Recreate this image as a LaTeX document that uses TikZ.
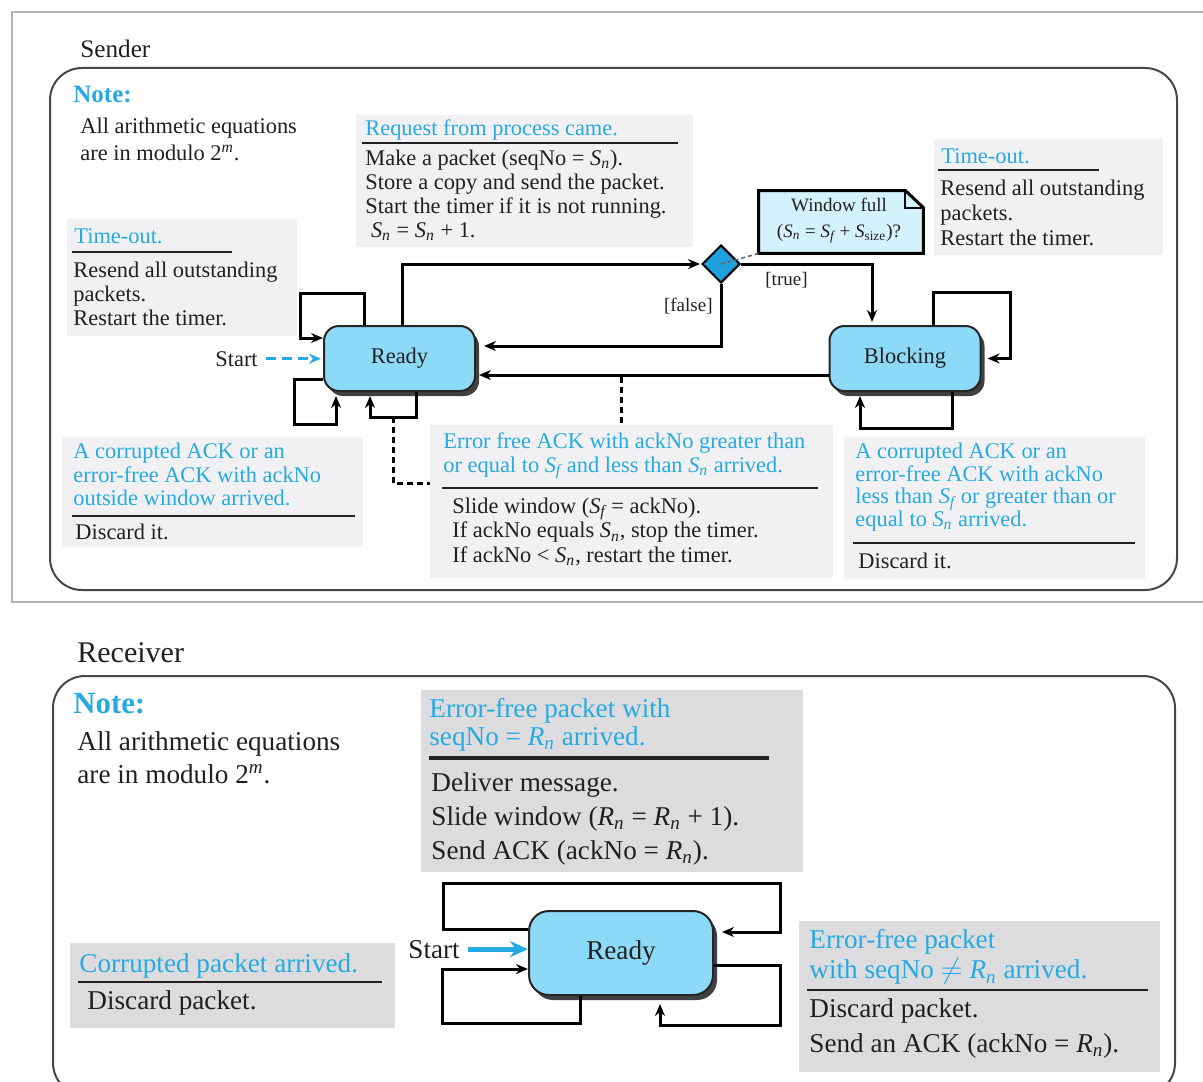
\documentclass[tikz,border=0pt]{standalone}
\usepackage{amsmath}
\usepackage{fontspec}
\setmainfont{Liberation Serif}
\usetikzlibrary{arrows.meta,shapes.geometric,shadows,calc}
\definecolor{cyanT}{RGB}{38,170,225}
\definecolor{boxS}{RGB}{241,241,243}
\definecolor{boxR}{RGB}{220,220,222}
\definecolor{stfill}{RGB}{140,218,247}
\definecolor{diafill}{RGB}{30,160,220}
\definecolor{notefill}{RGB}{212,242,252}
\definecolor{frameC}{RGB}{70,70,70}
\definecolor{txt}{RGB}{35,31,32}
\newcommand\vsub[2]{\textit{#1}$_{\textit{#2}}$}
\newcommand\vsubr[2]{\textit{#1}$_{\text{#2}}$}
\begin{document}
\begin{tikzpicture}[x=0.5pt,y=-0.5pt,
  tx/.style={anchor=north west, inner sep=0pt, align=left, text=txt},
  one/.style={anchor=base west, inner sep=0pt, text=txt},
  sbox/.style={fill=boxS, inner sep=0pt, anchor=north west},
  rbox/.style={fill=boxR, inner sep=0pt, anchor=north west},
  stS/.style={draw=black!85, line width=1pt, fill=stfill, rounded corners=7.5pt,
    minimum width=75.5pt, minimum height=32.5pt, inner sep=0pt, text=txt,
    font=\fontsize{11.2}{13}\selectfont,
    drop shadow={shadow xshift=2pt, shadow yshift=-2.5pt, fill=black!75, opacity=1}},
  stR/.style={stS, rounded corners=10pt, minimum width=92pt, minimum height=42pt,
    font=\fontsize{13.6}{16}\selectfont},
  dia/.style={diamond, draw=black, line width=1pt, fill=diafill, minimum size=19pt, inner sep=0pt, aspect=1},
  conn/.style={line width=1.5pt, draw=black, -{Stealth[length=6pt,width=5pt]}},
  anch/.style={line width=1.5pt, draw=black, dash pattern=on 3pt off 2pt},
  rulea/.style={line width=0.75pt, draw=txt},
  frame/.style={draw=frameC, line width=1pt, rounded corners=16pt}
]
\useasboundingbox (0,0) rectangle (1203,1081);
\fill[white] (0,0) rectangle (1203,1081);

% ---------------- outer frames
\draw[black!30, line width=0.6pt] (1203,12) -- (12,12) -- (12,602) -- (1203,602);
\draw[frame] (50,68) rectangle (1177,590);
\draw[frame] (53,676) rectangle (1175,1095);

% ---------------- sender gray boxes
\node[sbox, minimum width=168.5pt, minimum height=66pt] (reqbox) at (356,115) {};
\node[sbox, minimum width=115pt, minimum height=58.5pt] (tolbox) at (67,219) {};
\node[sbox, minimum width=114.5pt, minimum height=58pt] (torbox) at (934,139) {};
\node[sbox, minimum width=150.5pt, minimum height=55pt] (blbox) at (62,437) {};
\node[sbox, minimum width=201.5pt, minimum height=76.5pt] (midbox) at (430,425) {};
\node[sbox, minimum width=150.5pt, minimum height=71pt] (brbox) at (844,437) {};

% ---------------- receiver gray boxes
\node[rbox, minimum width=191pt, minimum height=91pt] (rtbox) at (421,690) {};
\node[rbox, minimum width=162.5pt, minimum height=42.5pt] (rlbox) at (70,943) {};
\node[rbox, minimum width=180.5pt, minimum height=75.5pt] (rrbox) at (799,921) {};

% ---------------- sender texts
\node[one, font=\fontsize{12.6}{14}\selectfont] (sender) at (80,58) {Sender};
\node[one, text=cyanT, font=\bfseries\fontsize{12.5}{14}\selectfont] (noteS) at (73,103) {Note:};
\node[tx, font=\fontsize{11.2}{13.5}\selectfont] (noteStxt) at (80,114.1)
  {\strut All arithmetic equations\\are in modulo 2$^{\textit{m}}$.};

\node[one, text=cyanT, font=\fontsize{11.2}{12}\selectfont] (reqT) at (365,135) {Request from process came.};
\draw[rulea] (362,143) -- (678,143);
\node[tx, font=\fontsize{11.2}{12}\selectfont] (reqB) at (365,148.2)
  {\strut Make a packet (seqNo = \vsub{S}{n}).\\Store a copy and send the packet.\\Start the timer if it is not running.\\\ \vsub{S}{n} = \vsub{S}{n} + 1.};

\node[one, text=cyanT, font=\fontsize{11.2}{12}\selectfont] (tolT) at (74,243) {Time-out.};
\draw[rulea] (72,252) -- (232,252);
\node[tx, font=\fontsize{11.2}{12}\selectfont] (tolB) at (73,260.2)
  {\strut Resend all outstanding\\packets.\\Restart the timer.};

\node[one, text=cyanT, font=\fontsize{11.2}{12}\selectfont] (torT) at (941,163) {Time-out.};
\draw[rulea] (938,170) -- (1099,170);
\node[tx, font=\fontsize{11.2}{12.5}\selectfont] (torB) at (940,177.5)
  {\strut Resend all outstanding\\packets.\\Restart the timer.};

\node[tx, text=cyanT, font=\fontsize{11.2}{11.25}\selectfont] (blT) at (73,442.25)
  {\strut A corrupted ACK or an\\error-free ACK with ackNo\\outside window arrived.};
\draw[rulea] (72,516) -- (355,516);
\node[one, font=\fontsize{11.2}{12}\selectfont] (blB) at (75,539) {Discard it.};

\node[tx, text=cyanT, font=\fontsize{11.2}{12}\selectfont] (midT) at (443,431.2)
  {\strut Error free ACK with ackNo greater than\\or equal to \vsub{S}{f} and less than \vsub{S}{n} arrived.};
\draw[rulea] (442,488) -- (818,488);
\node[tx, font=\fontsize{11.2}{12.25}\selectfont] (midB) at (452,495.85)
  {\strut Slide window (\vsub{S}{f} = ackNo).\\If ackNo equals \vsub{S}{n}, stop the timer.\\If ackNo < \vsub{S}{n}, restart the timer.};

\node[tx, text=cyanT, font=\fontsize{11.2}{11.3}\selectfont] (brT) at (855,442.2)
  {\strut A corrupted ACK or an\\error-free ACK with ackNo\\less than \vsub{S}{f} or greater than or\\equal to \vsub{S}{n} arrived.};
\draw[rulea] (853,543) -- (1135,543);
\node[one, font=\fontsize{11.2}{12}\selectfont] (brB) at (858,568) {Discard it.};

% ---------------- sender diagram
\node[stS] (rS) at (399.5,358.5) {Ready};
\node[stS] (bS) at (905,358.5) {Blocking};

% window-full note
\node[inner sep=0pt, minimum width=82pt, minimum height=31pt] (wn) at (841,222) {};
\draw[line width=1.5pt, fill=notefill, line join=miter]
  (wn.south west) -- (wn.north west) -- ([xshift=-9pt]wn.north east)
  -- ([yshift=-8.5pt]wn.north east) -- (wn.south east) -- cycle;
\draw[line width=1pt] ([xshift=-9pt]wn.north east) -- ([xshift=-9pt,yshift=-8.5pt]wn.north east)
  -- ([yshift=-8.5pt]wn.north east);
\node[inner sep=0pt, align=center, text=txt, font=\fontsize{9.5}{13}\selectfont] (wntxt) at (839,221)
  {Window full\\(\vsub{S}{n} = \vsub{S}{f} + \vsubr{S}{size})?};

\node[dia] (dia) at (721,264) {};
\draw[black!60, line width=0.8pt, dash pattern=on 2pt off 1.5pt] (dia.center) -- (wn.south west);

\node[anchor=base east, inner sep=0pt, text=txt, font=\fontsize{9.5}{11}\selectfont] (lfalse) at (713,311) {[false]};
\node[anchor=base west, inner sep=0pt, text=txt, font=\fontsize{9.5}{11}\selectfont] (ltrue) at (765,285) {[true]};

\coordinate (k1) at (402,264);
\draw[conn, shorten >=0.5pt] (k1 |- rS.north) -- (k1) -- (dia.west);
\coordinate (k2) at (721,346);
\draw[conn, shorten >=4pt] (dia.south) -- (k2) -- (k2 -| rS.east);
\coordinate (k3) at (872,264);
\draw[conn, shorten >=1.5pt] (dia.east) -- (k3) -- (k3 |- bS.north);
\draw[conn, shorten >=1.5pt] ([yshift=-8.25pt]bS.west) -- ([yshift=-8.25pt]rS.east);

% Ready loops
\coordinate (l1) at (300,293);
\draw[conn] ([xshift=-17.75pt]rS.north) |- (l1) |- ([yshift=10.25pt]rS.west);
\coordinate (l2) at (294,424);
\draw[conn, shorten >=2pt] ([yshift=-10.25pt]rS.west) -| (l2) -| ([xshift=-31.75pt]rS.south);
\coordinate (l3) at (370,417);
\draw[conn, shorten >=2pt] ([xshift=8.25pt]rS.south) |- (l3) -- ([xshift=-14.75pt]rS.south);

% Blocking loops
\coordinate (b1) at (1010,292);
\draw[conn, shorten >=3pt] ([xshift=14pt]bS.north) |- (b1) |- (bS.east);
\coordinate (b2) at (860,428);
\draw[conn, shorten >=2pt] ([xshift=23.5pt]bS.south) |- (b2) -- ([xshift=-22.5pt]bS.south);

% note anchors
\coordinate (a1) at (393,417);
\coordinate (a2) at (393,483);
\draw[anch] (a1) -- (a2) -- (a2 -| midbox.west);
\coordinate (a3) at (621,377);
\draw[anch] (a3) -- (a3 |- midbox.north);

% start
\node[one, font=\fontsize{11.2}{13}\selectfont] (startS) at (215,366) {Start};
\draw[cyanT, line width=1.5pt, dash pattern=on 5pt off 3pt, -{Stealth[length=6pt,width=5pt]}, shorten >=1pt]
  ([xshift=4pt]startS.east) -- (startS.east -| rS.west);

% ---------------- receiver texts
\node[one, font=\fontsize{15}{17}\selectfont] (receiver) at (77,662) {Receiver};
\node[one, text=cyanT, font=\bfseries\fontsize{15.4}{17}\selectfont] (noteR) at (73,713) {Note:};
\node[tx, font=\fontsize{13.6}{16.75}\selectfont] (noteRtxt) at (77,726.5)
  {\strut All arithmetic equations\\are in modulo 2$^{\textit{m}}$.};

\node[tx, text=cyanT, font=\fontsize{13.6}{14}\selectfont] (rtT) at (429,697.4)
  {\strut Error-free packet with\\seqNo = \vsub{R}{n} arrived.};
\draw[line width=2pt, draw=txt] (429,758) -- (769,758);
\node[tx, font=\fontsize{13.6}{17}\selectfont] (rtB) at (431,767.2)
  {\strut Deliver message.\\Slide window (\vsub{R}{n} = \vsub{R}{n} + 1).\\Send ACK (ackNo = \vsub{R}{n}).};

\node[one, text=cyanT, font=\fontsize{13.6}{16}\selectfont] (rlT) at (79,972) {Corrupted packet arrived.};
\draw[line width=1.2pt, draw=txt] (78,982) -- (382,982);
\node[one, font=\fontsize{13.6}{16}\selectfont] (rlB) at (87,1009) {Discard packet.};

\node[tx, text=cyanT, font=\fontsize{13.6}{14}\selectfont] (rrT) at (809,928.4)
  {\strut Error-free packet\\with seqNo $\neq$ \vsub{R}{n} arrived.};
\draw[line width=1pt, draw=txt] (807,990) -- (1148,990);
\node[tx, font=\fontsize{13.6}{17.5}\selectfont] (rrB) at (809,992.5)
  {\strut Discard packet.\\Send an ACK (ackNo = \vsub{R}{n}).};

% ---------------- receiver diagram
\node[stR] (rR) at (621,953) {Ready};

\coordinate (t1) at (443,883);
\coordinate (t2) at (780,932);
\draw[conn, shorten >=4pt] ([yshift=12pt]rR.west) -| (t1) -| (t2) -- (t2 -| rR.east);
\coordinate (t3) at (442,1023);
\draw[conn] ([xshift=-20.5pt]rR.south) |- (t3) |- ([yshift=-8pt]rR.west);
\coordinate (t4) at (780,1025);
\draw[conn, shorten >=4pt] ([yshift=-6pt]rR.east) -| (t4) -| ([xshift=19.5pt]rR.south);

\node[one, font=\fontsize{13.6}{16}\selectfont] (startR) at (408,958) {Start};
\draw[cyanT, line width=2.5pt, -{Stealth[length=9pt,width=8pt]}]
  ([xshift=4pt]startR.east) -- (startR.east -| rR.west);
\end{tikzpicture}
\end{document}
